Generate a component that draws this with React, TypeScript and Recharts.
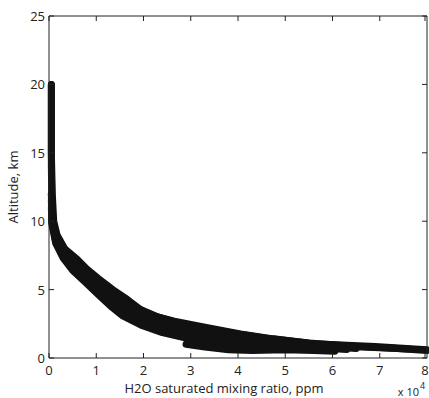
import { LineChart, Line, XAxis, YAxis, Label } from "recharts";

const xTicks = [0, 1, 2, 3, 4, 5, 6, 7, 8];
const yTicks = [0, 5, 10, 15, 20, 25];

// [mixing ratio (x10^4 ppm), altitude (km)], one list per group of soundings
const profileUpper: [number, number][] = [
  [0.05, 20], [0.05, 15], [0.07, 12], [0.1, 10], [0.17, 9], [0.33, 8], [0.6, 7.2], [0.8, 6.5],
  [1.05, 5.8], [1.35, 5.0], [1.65, 4.3], [1.95, 3.5], [2.3, 3.0], [2.65, 2.7], [3.3, 2.25],
  [4.05, 1.75], [4.75, 1.4], [5.6, 1.05], [6.9, 0.85], [8.0, 0.6],
];
const profileMidUpper: [number, number][] = [
  [0.05, 20], [0.05, 14], [0.06, 11], [0.1, 9.6], [0.2, 8.6], [0.4, 7.6], [0.65, 6.7], [0.95, 5.8],
  [1.25, 5.0], [1.55, 4.3], [1.9, 3.6], [2.3, 3.0], [2.8, 2.5], [3.4, 2.1], [4.0, 1.75], [4.7, 1.4],
  [5.5, 1.1], [6.5, 0.85], [7.3, 0.72], [8.0, 0.55],
];
const profileCenterUpper: [number, number][] = [
  [0.05, 12], [0.08, 10], [0.16, 8.9], [0.32, 7.9], [0.55, 6.9], [0.82, 6.0], [1.12, 5.1], [1.42, 4.35],
  [1.75, 3.65], [2.15, 3.0], [2.6, 2.5], [3.1, 2.1], [3.7, 1.72], [4.4, 1.4], [5.2, 1.12], [6.0, 0.9],
  [7.0, 0.75], [7.6, 0.65],
];
const profileMid: [number, number][] = [
  [0.05, 12], [0.06, 10], [0.12, 9], [0.25, 8], [0.45, 7], [0.7, 6.1], [1.0, 5.2], [1.3, 4.4],
  [1.6, 3.7], [2.0, 3.0], [2.4, 2.5], [2.9, 2.0], [3.5, 1.6], [4.2, 1.3], [5.0, 1.05], [5.8, 0.85],
  [6.5, 0.7],
];
const profileMidLower: [number, number][] = [
  [0.05, 11.5], [0.06, 10], [0.13, 8.7], [0.27, 7.7], [0.48, 6.7], [0.72, 5.85], [1.02, 4.9], [1.3, 4.1],
  [1.58, 3.4], [1.97, 2.7], [2.4, 2.17], [2.9, 1.72], [3.45, 1.38], [4.1, 1.12], [4.9, 0.92], [5.7, 0.75],
  [6.3, 0.62],
];
const profileLower: [number, number][] = [
  [0.05, 11], [0.06, 9.8], [0.14, 8.4], [0.3, 7.3], [0.5, 6.4], [0.75, 5.6], [1.05, 4.6], [1.3, 3.8],
  [1.55, 3.1], [1.95, 2.4], [2.4, 1.85], [2.9, 1.45], [3.4, 1.15], [4.0, 0.95], [4.8, 0.8],
];
const profileBranch: [number, number][] = [
  [2.9, 1.0], [3.3, 0.8], [3.8, 0.6], [4.3, 0.55], [5.0, 0.6], [5.6, 0.55], [6.05, 0.5],
];

const profiles = [
  profileUpper, profileMidUpper, profileCenterUpper, profileMid, profileMidLower, profileLower, profileBranch,
];

const axisColor = "#222";
const textColor = "#222";
const font = "'Open Sans', sans-serif";

const toRows = (p: [number, number][]) => p.map(([ppm, alt]) => ({ ppm, alt }));

const BottomTick = ({ x, y, payload }: any) => (
  <g>
    <line x1={x} y1={y} x2={x} y2={y - 5} stroke={axisColor} />
    <text x={x} y={y + 17} textAnchor="middle" fontSize={13} fontFamily={font} fill={textColor}>
      {payload.value}
    </text>
  </g>
);

const TopTick = ({ x, y }: any) => <line x1={x} y1={y} x2={x} y2={y + 5} stroke={axisColor} />;

const LeftTick = ({ x, y, payload }: any) => (
  <g>
    <line x1={x} y1={y} x2={x + 5} y2={y} stroke={axisColor} />
    <text x={x - 4} y={y + 5} textAnchor="end" fontSize={13} fontFamily={font} fill={textColor}>
      {payload.value}
    </text>
  </g>
);

const RightTick = ({ x, y }: any) => <line x1={x} y1={y} x2={x - 5} y2={y} stroke={axisColor} />;

export default function App() {
  return (
    <div style={{ position: "absolute", left: 0, top: 0, background: "#fff" }}>
      <LineChart width={429} height={398} margin={{ top: 15, right: 1, left: 0, bottom: 0 }}>
        <XAxis
          dataKey="ppm"
          type="number"
          domain={[0, 8]}
          ticks={xTicks}
          height={40}
          tickSize={0}
          tickMargin={0}
          tickLine={false}
          tick={<BottomTick />}
          stroke={axisColor}
        >
          <Label
            content={({ viewBox }: any) => (
              <g fontFamily={font} fill={textColor}>
                <text x={viewBox.x + viewBox.width / 2 - 14} y={viewBox.y + 35} textAnchor="middle" fontSize={13}>
                  H2O saturated mixing ratio, ppm
                </text>
                <text x={viewBox.x + viewBox.width - 8} y={viewBox.y + 38} textAnchor="end" fontSize={11}>
                  x 10
                </text>
                <text x={viewBox.x + viewBox.width - 7} y={viewBox.y + 31} fontSize={9}>
                  4
                </text>
              </g>
            )}
          />
        </XAxis>
        <XAxis
          xAxisId="top"
          dataKey="ppm"
          orientation="top"
          type="number"
          domain={[0, 8]}
          ticks={xTicks}
          height={1}
          tickSize={0}
          tickMargin={0}
          tickLine={false}
          tick={<TopTick />}
          stroke={axisColor}
        />
        <YAxis
          type="number"
          domain={[0, 25]}
          ticks={yTicks}
          width={49}
          tickSize={0}
          tickMargin={0}
          tickLine={false}
          tick={<LeftTick />}
          stroke={axisColor}
        >
          <Label
            content={({ viewBox }: any) => (
              <text
                x={18}
                y={viewBox.y + viewBox.height / 2}
                transform={`rotate(-90 18 ${viewBox.y + viewBox.height / 2})`}
                textAnchor="middle"
                fontSize={13}
                fontFamily={font}
                fill={textColor}
              >
                Altitude, km
              </text>
            )}
          />
        </YAxis>
        <YAxis
          yAxisId="right"
          orientation="right"
          type="number"
          domain={[0, 25]}
          ticks={yTicks}
          width={1}
          tickSize={0}
          tickMargin={0}
          tickLine={false}
          tick={<RightTick />}
          stroke={axisColor}
        />
        {profiles.map((p, i) => (
          <Line
            key={i}
            data={toRows(p)}
            dataKey="alt"
            type="linear"
            stroke="#111"
            strokeWidth={7}
            strokeLinejoin="round"
            strokeLinecap="round"
            dot={false}
            isAnimationActive={false}
          />
        ))}
        {/* invisible copy so the top and right frame axes get drawn */}
        <Line
          xAxisId="top"
          yAxisId="right"
          data={toRows(profileUpper)}
          dataKey="alt"
          stroke="none"
          dot={false}
          activeDot={false}
          isAnimationActive={false}
        />
      </LineChart>
    </div>
  );
}
